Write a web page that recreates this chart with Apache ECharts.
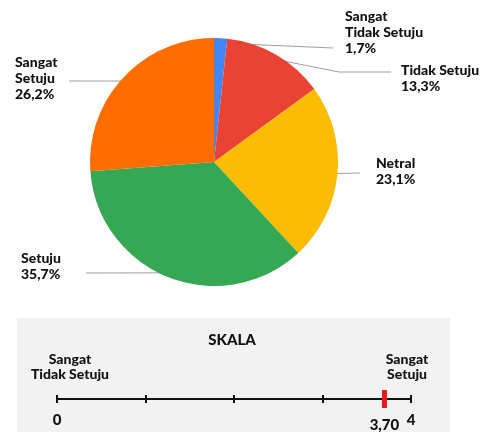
<!DOCTYPE html>
<html>
<head>
<meta charset="utf-8">
<script src="https://cdn.jsdelivr.net/npm/echarts@6/dist/echarts.min.js"></script>
<style>
  html, body { margin: 0; padding: 0; background: #fff; }
  #chart { width: 480px; height: 442px; }
</style>
</head>
<body>
<div id="chart"></div>
<script>
// pie data (percent)
const categories = ['Sangat\nTidak Setuju', 'Tidak Setuju', 'Netral', 'Setuju', 'Sangat\nSetuju'];
const shares = [1.7, 13.3, 23.1, 35.7, 26.2];
const colors = ['#4285f4', '#ea4335', '#fbbc04', '#34a853', '#ff6d01'];

// scale
const scaleTicks = [0, 1, 2, 3, 4];
const scaleLabels = ['0', '', '', '', '4'];
const scaleEnds = ['Sangat\nTidak Setuju', 'Sangat\nSetuju'];
const score = [3.70];

const FONT = 'Lato';
const WEIGHT = 900;
const pieCenter = [214, 162];

// where each pie label sits (text top-left + end of leader line)
const labelPlace = [
  { x: 345, y: 8, line: [[333, 48]] },
  { x: 401, y: 62, line: [[339, 72], [391, 72]] },
  { x: 376, y: 155, line: [[360, 173]] },
  { x: 21, y: 250, line: [[86, 273]] },
  { x: 15, y: 54, line: [[69, 81]] }
];

const chart = echarts.init(document.getElementById('chart'));

const option = {
  backgroundColor: '#fff',
  animation: false,
  graphic: [
    {
      type: 'rect', z: -10,
      shape: { x: 17, y: 318, width: 433, height: 114 },
      style: { fill: '#f2f2f2' }
    },
    {
      type: 'text', x: 232, y: 340,
      style: { text: 'SKALA', font: WEIGHT + ' 15px ' + FONT, fill: '#111', align: 'center', verticalAlign: 'middle' }
    },
    {
      type: 'text', x: 70, y: 352,
      style: { text: scaleEnds[0], font: WEIGHT + ' 14px ' + FONT, lineHeight: 15, fill: '#111', align: 'center', verticalAlign: 'top' }
    },
    {
      type: 'text', x: 407, y: 352,
      style: { text: scaleEnds[1], font: WEIGHT + ' 14px ' + FONT, lineHeight: 15, fill: '#111', align: 'center', verticalAlign: 'top' }
    }
  ],
  grid: { left: 57, width: 354, top: 399, height: 0 },
  xAxis: [
    {
      type: 'value', min: 0, max: 4, interval: 1, position: 'bottom',
      splitLine: { show: false },
      axisLine: { lineStyle: { color: '#111', width: 2 } },
      axisTick: { length: 4, lineStyle: { color: '#111', width: 2 } },
      axisLabel: {
        margin: 14, color: '#111', fontFamily: FONT, fontWeight: WEIGHT, fontSize: 15,
        formatter: v => scaleLabels[scaleTicks.indexOf(v)] || ''
      }
    },
    {
      type: 'value', min: 0, max: 4, interval: 1, position: 'top',
      splitLine: { show: false },
      axisLine: { show: false },
      axisTick: { length: 4, lineStyle: { color: '#111', width: 2 } },
      axisLabel: { show: false }
    }
  ],
  yAxis: { type: 'value', min: 0, max: 1, show: false },
  series: [
    {
      type: 'pie',
      center: pieCenter,
      radius: 124,
      startAngle: 90,
      clockwise: true,
      data: categories.map((c, i) => ({ name: c, value: shares[i], itemStyle: { color: colors[i] } })),
      label: {
        show: true,
        position: 'outside',
        color: '#111',
        fontFamily: FONT,
        fontWeight: WEIGHT,
        fontSize: 14,
        lineHeight: 16,
        formatter: p => p.name + '\n' + p.value.toFixed(1).replace('.', ',') + '%'
      },
      labelLine: { show: true, length: 10, length2: 10, lineStyle: { color: '#9e9e9e', width: 1 } },
      labelLayout: params => {
        const pl = labelPlace[params.dataIndex];
        const p0 = params.labelLinePoints[0];
        const start = [
          pieCenter[0] + (p0[0] - pieCenter[0]) * 0.96,
          pieCenter[1] + (p0[1] - pieCenter[1]) * 0.96
        ];
        return {
          x: pl.x, y: pl.y, align: 'left', verticalAlign: 'top',
          labelLinePoints: [start].concat(pl.line)
        };
      }
    },
    {
      type: 'scatter',
      xAxisIndex: 0,
      data: score.map(v => [v, 0]),
      symbol: 'rect',
      symbolSize: [5, 18],
      itemStyle: { color: '#f0141e', opacity: 1 },
      label: {
        show: true, position: 'bottom', distance: 10,
        color: '#111', fontFamily: FONT, fontWeight: WEIGHT, fontSize: 15,
        formatter: p => p.value[0].toFixed(2).replace('.', ',')
      }
    }
  ]
};

chart.setOption(option);
</script>
</body>
</html>
